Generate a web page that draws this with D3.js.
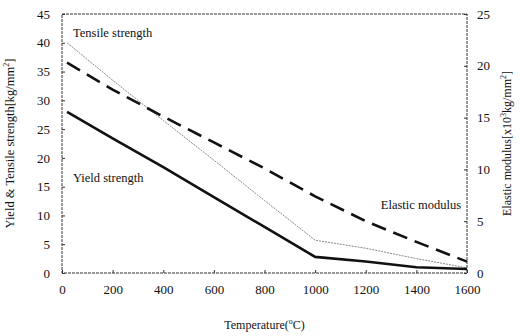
<!DOCTYPE html>
<html>
<head>
<meta charset="utf-8">
<script src="https://cdn.jsdelivr.net/npm/d3@7"></script>
<style>
  body { margin: 0; background: #fff; }
  svg text { font-family: "Liberation Serif", "DejaVu Serif", serif; fill: #111; }
</style>
</head>
<body>
<div id="chart"></div>
<script>
// temperature (C) and the three curves
var temps     = [20, 200, 400, 600, 800, 1000, 1200, 1400, 1600]
var tensile   = [40, 33.5, 26.5, 19.6, 12.6, 5.7, 4.3, 2.5, 0.9]
var yieldStr  = [28, 23.4, 18.4, 13.2, 8.0, 2.8, 2.0, 1.0, 0.7]
var elastic   = [20.3, 17.7, 15.1, 12.6, 10.1, 7.4, 5.0, 3.0, 1.1]

var xTicks = [0, 200, 400, 600, 800, 1000, 1200, 1400, 1600]
var yLeftTicks = [0, 5, 10, 15, 20, 25, 30, 35, 40, 45]
var yRightTicks = [0, 5, 10, 15, 20, 25]

var margin = { top: 14, right: 53, bottom: 63, left: 62 }
var width = 520 - margin.left - margin.right
var height = 336 - margin.top - margin.bottom

var svg = d3.select("#chart")
  .append("svg")
    .attr("width", 520)
    .attr("height", 336)

var g = svg.append("g")
  .attr("transform", "translate(" + margin.left + "," + margin.top + ")")

var x = d3.scaleLinear().domain([0, 1600]).range([0, width])
var yL = d3.scaleLinear().domain([0, 45]).range([height, 0])
var yR = d3.scaleLinear().domain([0, 25]).range([height, 0])

// frame
g.append("rect")
  .attr("width", width)
  .attr("height", height)
  .attr("fill", "none")
  .attr("stroke", "#333")
  .attr("stroke-width", 1)
  .attr("stroke-dasharray", "3,1")

// axes (ticks point inward)
function styleAxis(sel) {
  sel.select(".domain").remove()
  sel.selectAll("line").attr("stroke", "#333")
  sel.selectAll("text").style("font-size", "13px")
}

var fmt = d3.format("d")

g.append("g")
  .attr("transform", "translate(0," + height + ")")
  .call(d3.axisBottom(x).tickValues(xTicks).tickFormat(fmt).tickSize(-3).tickPadding(12))
  .call(styleAxis)

g.append("g")
  .call(d3.axisLeft(yL).tickValues(yLeftTicks).tickFormat(fmt).tickSize(-3).tickPadding(12))
  .call(styleAxis)

g.append("g")
  .attr("transform", "translate(" + width + ",0)")
  .call(d3.axisRight(yR).tickValues(yRightTicks).tickFormat(fmt).tickSize(-3).tickPadding(10))
  .call(styleAxis)

// curves
var lineL = d3.line()
  .x(function(d, i) { return x(temps[i]) })
  .y(function(d) { return yL(d) })

var lineR = d3.line()
  .x(function(d, i) { return x(temps[i]) })
  .y(function(d) { return yR(d) })

g.append("path")
  .datum(tensile)
  .attr("d", lineL)
  .attr("fill", "none")
  .attr("stroke", "#8a8a8a")
  .attr("stroke-width", 1)
  .attr("stroke-dasharray", "2,1")

g.append("path")
  .datum(elastic)
  .attr("d", lineR)
  .attr("fill", "none")
  .attr("stroke", "#111")
  .attr("stroke-width", 2.6)
  .attr("stroke-dasharray", "15,8")

g.append("path")
  .datum(yieldStr)
  .attr("d", lineL)
  .attr("fill", "none")
  .attr("stroke", "#111")
  .attr("stroke-width", 2.6)

// series labels
g.append("text")
  .attr("x", 11)
  .attr("y", 23)
  .style("font-size", "12.5px")
  .text("Tensile strength")

g.append("text")
  .attr("x", 11)
  .attr("y", 168)
  .style("font-size", "12.5px")
  .text("Yield strength")

g.append("text")
  .attr("x", width - 6)
  .attr("y", 195)
  .attr("text-anchor", "end")
  .style("font-size", "12.5px")
  .text("Elastic modulus")

// axis titles
var xTitle = svg.append("text")
  .attr("x", margin.left + width / 2)
  .attr("y", 329)
  .attr("text-anchor", "middle")
  .style("font-size", "12px")
xTitle.append("tspan").text("Temperature(")
xTitle.append("tspan").attr("dy", -5).style("font-size", "8px").text("o")
xTitle.append("tspan").attr("dy", 5).text("C)")

var leftTitle = svg.append("text")
  .attr("transform", "translate(14," + (margin.top + height / 2) + ") rotate(-90)")
  .attr("text-anchor", "middle")
  .style("font-size", "12.5px")
leftTitle.append("tspan").text("Yield & Tensile strength[kg/mm")
leftTitle.append("tspan").attr("dy", -5).style("font-size", "8px").text("2")
leftTitle.append("tspan").attr("dy", 5).text("]")

var rightTitle = svg.append("text")
  .attr("transform", "translate(511," + (margin.top + height / 2) + ") rotate(-90)")
  .attr("text-anchor", "middle")
  .style("font-size", "12px")
rightTitle.append("tspan").text("Elastic modulus[x10")
rightTitle.append("tspan").attr("dy", -5).style("font-size", "8px").text("3")
rightTitle.append("tspan").attr("dy", 5).text("kg/mm")
rightTitle.append("tspan").attr("dy", -5).style("font-size", "8px").text("2")
rightTitle.append("tspan").attr("dy", 5).text("]")
</script>
</body>
</html>
